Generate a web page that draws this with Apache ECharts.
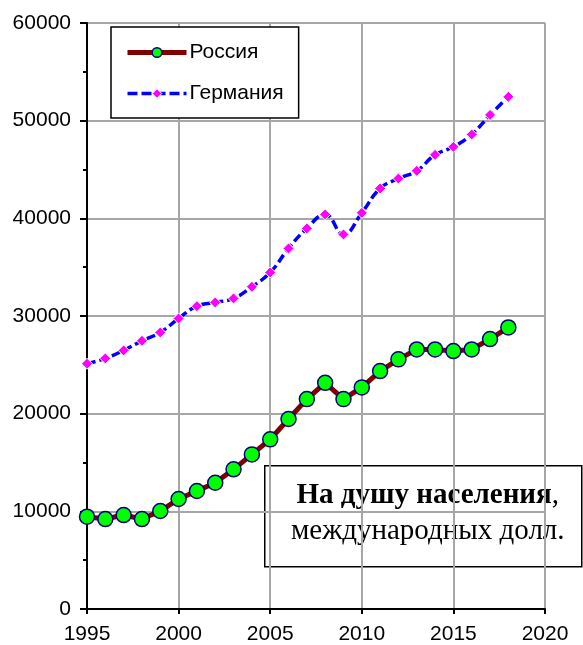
<!DOCTYPE html>
<html>
<head>
<meta charset="utf-8">
<script src="https://cdn.jsdelivr.net/npm/echarts@6/dist/echarts.min.js"></script>
<style>html,body{margin:0;padding:0;background:#fff}#c{width:583px;height:645px}</style>
</head>
<body>
<div id="c"></div>
<script>
var years = [1995,1996,1997,1998,1999,2000,2001,2002,2003,2004,2005,2006,2007,2008,2009,2010,2011,2012,2013,2014,2015,2016,2017,2018];
var russia = [9450,9210,9620,9210,10030,11260,12080,12930,14300,15830,17370,19450,21490,23160,21490,22690,24360,25560,26580,26580,26410,26580,27640,28830];
var germany = [25110,25660,26480,27460,28320,29750,31010,31390,31800,32990,34460,36920,38970,40400,38350,40560,43060,44080,44860,46500,47320,48590,50590,52440];
var seriesNames = ['Россия','Германия'];
var xTicks = {min:1995, max:2020, interval:5};
var yTicks = {min:0, max:60000, interval:10000};
var noteBold = 'На душу населения';
var noteRest = 'международных долл.';

function pairs(xs, ys){ return xs.map(function(x,i){ return [x, ys[i]]; }); }

var chart = echarts.init(document.getElementById('c'), null, {renderer:'canvas'});
var font = 'Liberation Sans, Arial, sans-serif';
var serif = 'Liberation Serif, Times New Roman, serif';
chart.setOption({
  animation:false,
  backgroundColor:'#fff',
  grid:{left:87, right:38, top:23, bottom:36, containLabel:false},
  xAxis:{type:'value', min:xTicks.min, max:xTicks.max, interval:xTicks.interval,
    axisLine:{show:true, lineStyle:{color:'#000', width:2}},
    axisTick:{show:true, length:5, lineStyle:{color:'#000', width:2}},
    axisLabel:{color:'#000', fontSize:21, fontFamily:font, margin:15, formatter:function(v){return String(v);}},
    splitLine:{show:true, lineStyle:{color:'#a6a6a6', width:2}}},
  yAxis:{type:'value', min:yTicks.min, max:yTicks.max, interval:yTicks.interval,
    axisLine:{show:true, lineStyle:{color:'#000', width:2}},
    axisTick:{show:true, length:7, lineStyle:{color:'#000', width:2}},
    minorTick:{show:true, splitNumber:2, length:4, lineStyle:{color:'#000', width:2}},
    axisLabel:{color:'#000', fontSize:21, fontFamily:font, margin:16, formatter:function(v){return String(v);}},
    splitLine:{show:true, lineStyle:{color:'#a6a6a6', width:2}}},
  legend:{orient:'vertical', left:111, top:27,
    backgroundColor:'#fff', borderColor:'#000', borderWidth:1.5,
    padding:[15,15,14,14], itemGap:20, itemWidth:59, itemHeight:12,
    textStyle:{fontSize:21, fontFamily:font, color:'#000', padding:[0,0,0,-2]},
    data:[
      {name:seriesNames[0], lineStyle:{width:5, color:'#800000'}, itemStyle:{color:'#00ff00', borderColor:'#000080', borderWidth:1.5}},
      {name:seriesNames[1], lineStyle:{width:3.5, color:'#0000ff', type:[10,4]}, itemStyle:{color:'#ff00ff', borderColor:'#fff', borderWidth:1}}
    ]},
  series:[
    {name:seriesNames[0], type:'line', data:pairs(years, russia),
      lineStyle:{color:'#800000', width:5},
      symbol:'circle', symbolSize:15,
      itemStyle:{color:'#00ff00', borderColor:'#000080', borderWidth:1.5}, z:3},
    {name:seriesNames[1], type:'line', data:pairs(years, germany), smooth:0.45,
      lineStyle:{color:'#0000ff', width:3.5, type:[9,4]},
      symbol:'diamond', symbolSize:11,
      itemStyle:{color:'#ff00ff', borderColor:'#fff', borderWidth:1}, z:2}
  ],
  graphic:[
    {type:'group', left:264, top:465, z:100, children:[
      {type:'rect', shape:{x:0, y:0, width:317, height:101},
        style:{fill:'#fff', stroke:'#000', lineWidth:1.5}},
      {type:'text', x:163, y:30, style:{
        text:'{b|'+noteBold+'}{n|,}', align:'center', verticalAlign:'middle',
        rich:{b:{fontFamily:serif, fontWeight:'bold', fontSize:29, fill:'#000'},
              n:{fontFamily:serif, fontSize:29, fill:'#000'}}}},
      {type:'text', x:163, y:66, style:{
        text:noteRest, align:'center', verticalAlign:'middle',
        fontFamily:serif, fontSize:29, fill:'#000'}}
    ]}
  ]
});
</script>
</body>
</html>
